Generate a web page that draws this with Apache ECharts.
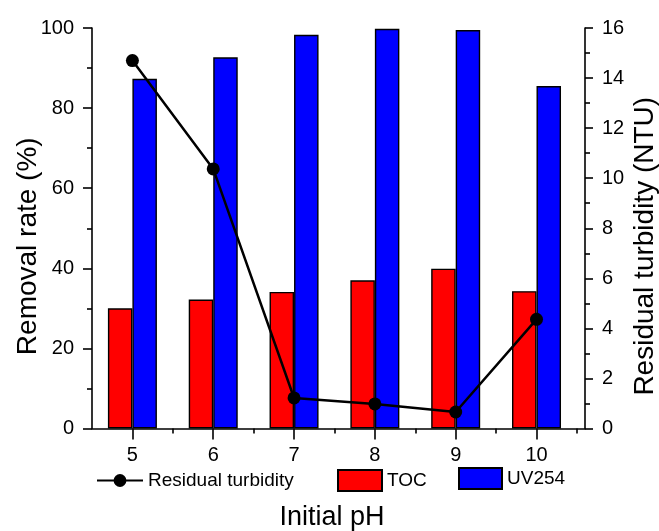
<!DOCTYPE html>
<html>
<head>
<meta charset="utf-8">
<script src="https://cdn.jsdelivr.net/npm/echarts@6/dist/echarts.min.js"></script>
<style>
  html, body { margin: 0; padding: 0; background: #ffffff; }
  #chart { width: 659px; height: 531px; }
</style>
</head>
<body>
<div id="chart"></div>
<script>
// Initial pH values on the x axis
const phValues = [5, 6, 7, 8, 9, 10];
const halfTicks = [5.5, 6.5, 7.5, 8.5, 9.5, 10.5];

// Removal rates (%)
const tocRemoval = [30.0, 32.2, 34.1, 37.0, 39.9, 34.3];
const uv254Removal = [87.3, 92.7, 98.3, 99.8, 99.5, 85.5];

// Residual turbidity (NTU)
const residualTurbidity = [14.7, 10.37, 1.22, 0.98, 0.66, 4.36];

const FONT = '"Liberation Sans", Arial, sans-serif';
const pairs = (xs, ys) => xs.map((x, i) => [x, ys[i]]);

const chart = echarts.init(document.getElementById('chart'), null, { renderer: 'canvas' });

const axisLine = { show: true, lineStyle: { color: '#000', width: 1.6 } };
const tickStyle = { color: '#000', width: 1.6 };

chart.setOption({
  backgroundColor: '#ffffff',
  animation: false,
  textStyle: { fontFamily: FONT },
  grid: { left: 92, right: 74, top: 28, bottom: 102.5, containLabel: false, outerBoundsMode: 'none' },
  legend: [
    {
      data: [{ name: 'Residual turbidity' }], left: 96, top: 471, padding: 0,
      itemWidth: 46, itemHeight: 16,
      textStyle: { fontSize: 19, color: '#000', fontFamily: FONT }
    },
    {
      data: [{ name: 'TOC', icon: 'rect' }], left: 337, top: 469, padding: 0,
      itemWidth: 44, itemHeight: 21,
      textStyle: { fontSize: 19, color: '#000', fontFamily: FONT }
    },
    {
      data: [{ name: 'UV254', icon: 'rect' }], left: 458, top: 467, padding: 0,
      itemWidth: 43, itemHeight: 21,
      textStyle: { fontSize: 19, color: '#000', fontFamily: FONT }
    }
  ],
  xAxis: [
    {
      type: 'value', min: 4.5, max: 10.6, position: 'bottom',
      name: 'Initial pH', nameLocation: 'middle', nameGap: 76, nameMoveOverlap: false,
      nameTextStyle: { fontSize: 27, color: '#000', fontFamily: FONT, padding: [0, 13, 0, 0] },
      axisLine: axisLine,
      axisTick: { show: true, length: 11, lineStyle: tickStyle, customValues: phValues },
      axisLabel: { show: true, margin: 17, fontSize: 20, color: '#000', fontFamily: FONT, customValues: phValues },
      splitLine: { show: false }
    },
    {
      type: 'value', min: 4.5, max: 10.6, position: 'bottom',
      axisLine: { show: false },
      axisTick: { show: true, length: 5, lineStyle: tickStyle, customValues: halfTicks },
      axisLabel: { show: false },
      splitLine: { show: false }
    }
  ],
  yAxis: [
    {
      type: 'value', min: 0, max: 100, interval: 20, position: 'left',
      name: 'Removal rate (%)', nameLocation: 'middle', nameGap: 50, nameMoveOverlap: false,
      nameTextStyle: { fontSize: 28, color: '#000', fontFamily: FONT, padding: [0, 36, 0, 0] },
      axisLine: axisLine,
      axisTick: { show: true, length: 9, lineStyle: tickStyle },
      minorTick: { show: true, splitNumber: 2, length: 5, lineStyle: tickStyle },
      axisLabel: { margin: 18, fontSize: 20, color: '#000', fontFamily: FONT },
      splitLine: { show: false }
    },
    {
      type: 'value', min: 0, max: 16, interval: 2, position: 'right',
      name: 'Residual turbidity (NTU)', nameLocation: 'middle', nameGap: 46, nameMoveOverlap: false,
      nameTextStyle: { fontSize: 28, color: '#000', fontFamily: FONT, padding: [0, 36, 0, 0] },
      axisLine: axisLine,
      axisTick: { show: true, length: 8, lineStyle: tickStyle },
      minorTick: { show: true, splitNumber: 2, length: 5, lineStyle: tickStyle },
      axisLabel: { margin: 17, fontSize: 20, color: '#000', fontFamily: FONT },
      splitLine: { show: false }
    }
  ],
  series: [
    {
      name: 'TOC', type: 'bar', xAxisIndex: 0, yAxisIndex: 0,
      barWidth: 24.5, barGap: '0%',
      itemStyle: { color: '#ff0000', borderColor: '#000', borderWidth: 1.4 },
      data: pairs(phValues, tocRemoval)
    },
    {
      name: 'UV254', type: 'bar', xAxisIndex: 0, yAxisIndex: 0,
      barWidth: 24.5, barGap: '0%',
      itemStyle: { color: '#0000ff', borderColor: '#000', borderWidth: 1.4 },
      data: pairs(phValues, uv254Removal)
    },
    {
      name: 'Residual turbidity', type: 'line', xAxisIndex: 0, yAxisIndex: 1,
      z: 5, symbol: 'circle', symbolSize: 13,
      lineStyle: { color: '#000', width: 2.5 },
      itemStyle: { color: '#000' },
      data: pairs(phValues, residualTurbidity)
    }
  ]
});
</script>
</body>
</html>
